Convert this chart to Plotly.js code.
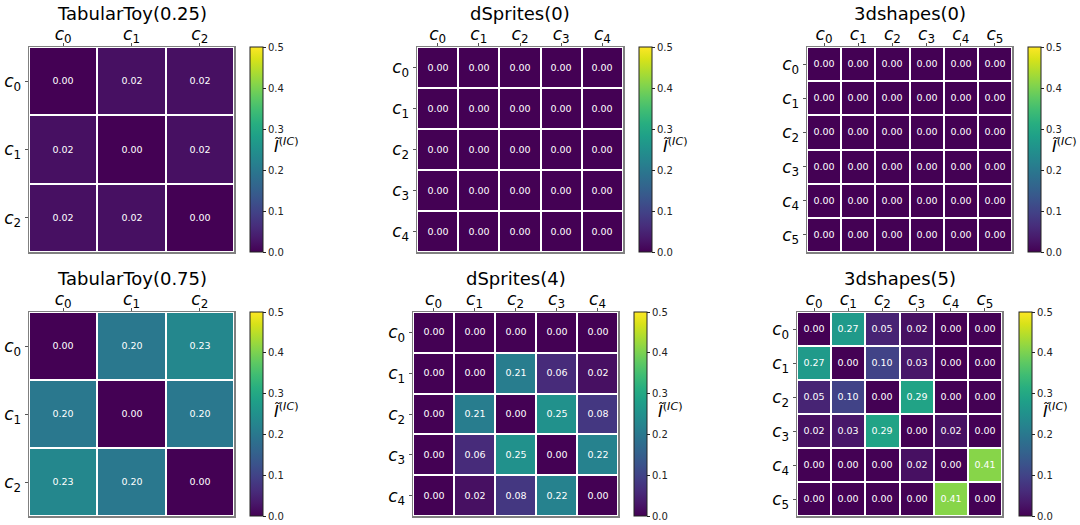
<!DOCTYPE html>
<html>
<head>
<meta charset="utf-8">
<script src="https://cdn.plot.ly/plotly-3.0.1.min.js"></script>
<style>
  html, body { margin: 0; padding: 0; background: #fff; }
  #chart { width: 1080px; height: 525px; }
</style>
</head>
<body>
<div id="chart"></div>
<script>
// Pairwise interaction matrices, one per dataset setting
const titles = ["TabularToy(0.25)", "dSprites(0)", "3dshapes(0)",
                "TabularToy(0.75)", "dSprites(4)", "3dshapes(5)"];

const tabularToy025 = [
  [0.00, 0.02, 0.02],
  [0.02, 0.00, 0.02],
  [0.02, 0.02, 0.00]
];
const dSprites0 = [
  [0.00, 0.00, 0.00, 0.00, 0.00],
  [0.00, 0.00, 0.00, 0.00, 0.00],
  [0.00, 0.00, 0.00, 0.00, 0.00],
  [0.00, 0.00, 0.00, 0.00, 0.00],
  [0.00, 0.00, 0.00, 0.00, 0.00]
];
const shapes3d0 = [
  [0.00, 0.00, 0.00, 0.00, 0.00, 0.00],
  [0.00, 0.00, 0.00, 0.00, 0.00, 0.00],
  [0.00, 0.00, 0.00, 0.00, 0.00, 0.00],
  [0.00, 0.00, 0.00, 0.00, 0.00, 0.00],
  [0.00, 0.00, 0.00, 0.00, 0.00, 0.00],
  [0.00, 0.00, 0.00, 0.00, 0.00, 0.00]
];
const tabularToy075 = [
  [0.00, 0.20, 0.23],
  [0.20, 0.00, 0.20],
  [0.23, 0.20, 0.00]
];
const dSprites4 = [
  [0.00, 0.00, 0.00, 0.00, 0.00],
  [0.00, 0.00, 0.21, 0.06, 0.02],
  [0.00, 0.21, 0.00, 0.25, 0.08],
  [0.00, 0.06, 0.25, 0.00, 0.22],
  [0.00, 0.02, 0.08, 0.22, 0.00]
];
const shapes3d5 = [
  [0.00, 0.27, 0.05, 0.02, 0.00, 0.00],
  [0.27, 0.00, 0.10, 0.03, 0.00, 0.00],
  [0.05, 0.10, 0.00, 0.29, 0.00, 0.00],
  [0.02, 0.03, 0.29, 0.00, 0.02, 0.00],
  [0.00, 0.00, 0.00, 0.02, 0.00, 0.41],
  [0.00, 0.00, 0.00, 0.00, 0.41, 0.00]
];
const matrices = [tabularToy025, dSprites0, shapes3d0, tabularToy075, dSprites4, shapes3d5];

const colorbarTicks = [0, 0.1, 0.2, 0.3, 0.4, 0.5];
const colorbarTickText = ["0.0", "0.1", "0.2", "0.3", "0.4", "0.5"];

// Panel geometry in pixels: heatmap box [left, right, top, bottom] and colorbar left edge
const W = 1080, H = 525;
const boxes = [
  {l: 29,  r: 234,  t: 47,  b: 252, cb: 250},
  {l: 417, r: 623,  t: 47,  b: 252, cb: 639},
  {l: 807, r: 1012, t: 47,  b: 252, cb: 1028},
  {l: 29,  r: 234,  t: 312, b: 516, cb: 250},
  {l: 413, r: 618,  t: 312, b: 516, cb: 634},
  {l: 797, r: 1002, t: 312, b: 516, cb: 1019}
];

const FONT = "DejaVu Sans, sans-serif";
const compLabel = i => "<i>c</i><sub>" + i + "</sub>";

const data = [];
const layout = {
  width: W, height: H,
  margin: {l: 0, r: 0, t: 0, b: 0},
  paper_bgcolor: "#ffffff",
  plot_bgcolor: "#ffffff",
  showlegend: false,
  font: {family: FONT, color: "#000"},
  annotations: []
};

matrices.forEach((m, k) => {
  const n = m.length;
  const idx = [...Array(n).keys()];
  const box = boxes[k];
  const xa = "xaxis" + (k === 0 ? "" : k + 1);
  const ya = "yaxis" + (k === 0 ? "" : k + 1);
  const xr = "x" + (k === 0 ? "" : k + 1);
  const yr = "y" + (k === 0 ? "" : k + 1);

  data.push({
    type: "heatmap",
    z: m,
    x: idx,
    y: idx,
    xaxis: xr, yaxis: yr,
    colorscale: "Viridis",
    zmin: 0, zmax: 0.5,
    xgap: 2, ygap: 2,
    texttemplate: "%{z:.2f}",
    textfont: {color: "#ffffff", size: 9.5, family: FONT},
    hoverinfo: "skip",
    colorbar: {
      x: box.cb / W, xanchor: "left", xpad: 0,
      y: 1 - (box.t + box.b) / 2 / H, yanchor: "middle", ypad: 0,
      len: box.b - box.t, lenmode: "pixels",
      thickness: 13, thicknessmode: "pixels",
      outlinewidth: 1, outlinecolor: "#222",
      tickvals: colorbarTicks, ticktext: colorbarTickText,
      ticks: "outside", ticklen: 3, tickwidth: 1, tickcolor: "#222",
      tickfont: {size: 10, color: "#222", family: FONT}
    }
  });

  const axisCommon = {
    range: [-0.5, n - 0.5],
    tickvals: idx,
    ticktext: idx.map(compLabel),
    ticks: "outside", ticklen: 3, tickwidth: 1, tickcolor: "#555",
    tickfont: {size: 17, family: FONT, color: "#000"},
    showgrid: false, zeroline: false,
    showline: true, mirror: true, linecolor: "#808080", linewidth: 1.5,
    fixedrange: true
  };
  layout[xa] = Object.assign({}, axisCommon, {
    domain: [box.l / W, box.r / W],
    side: "top",
    ticklabelstandoff: -4,
    anchor: yr
  });
  layout[ya] = Object.assign({}, axisCommon, {
    domain: [1 - box.b / H, 1 - box.t / H],
    range: [n - 0.5, -0.5],
    anchor: xr
  });

  // Panel title
  layout.annotations.push({
    text: titles[k],
    xref: "paper", yref: "paper",
    x: (box.l + box.r) / 2 / W,
    y: 1 - (box.t - 34) / H,
    xanchor: "center", yanchor: "middle",
    showarrow: false,
    font: {size: 18, family: FONT, color: "#000"}
  });
  // Colorbar label
  layout.annotations.push({
    text: "<i>Ĩ</i><sup>(<i>IC</i>)</sup>",
    xref: "paper", yref: "paper",
    x: (box.cb + 22) / W,
    y: 1 - ((box.t + box.b) / 2 - 4) / H,
    xanchor: "left", yanchor: "middle",
    showarrow: false,
    font: {size: 16, family: FONT, color: "#000"}
  });
});

Plotly.newPlot("chart", data, layout, {staticPlot: true, displayModeBar: false});
</script>
</body>
</html>
